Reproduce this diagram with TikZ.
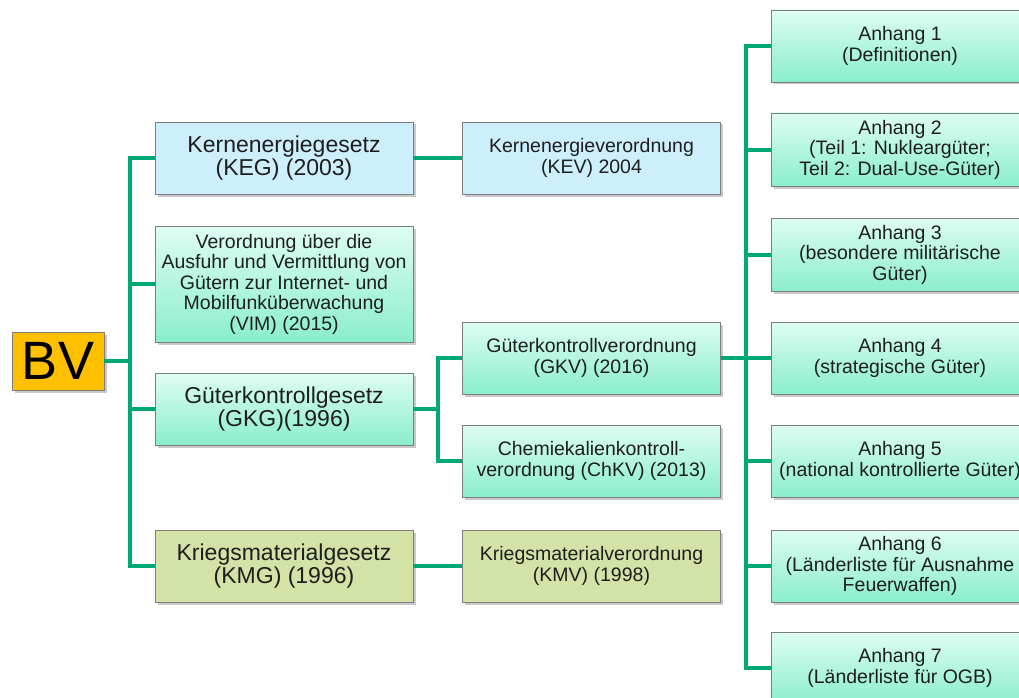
\documentclass[tikz,border=0pt]{standalone}
\usepackage{fontspec}
\setmainfont{Liberation Sans}
\usetikzlibrary{shadows}
\definecolor{conncol}{RGB}{0,168,118}
\definecolor{minttop}{RGB}{222,253,243}
\definecolor{mintbot}{RGB}{138,238,204}
\definecolor{bluefill}{RGB}{205,239,252}
\definecolor{olivefill}{RGB}{211,226,167}
\definecolor{bvfill}{RGB}{255,192,0}
\definecolor{boxline}{RGB}{125,125,125}
\definecolor{txt}{RGB}{30,30,30}
\tikzset{
  box/.style={draw=boxline, line width=0.8pt, align=center, inner sep=0pt,
    minimum width=258pt, minimum height=72pt, text=txt,
    drop shadow={shadow xshift=2.5pt, shadow yshift=-2.5pt, opacity=0.35, fill=black!60}},
  mint/.style={box, top color=minttop, bottom color=mintbot},
  bluebox/.style={box, fill=bluefill},
  olivebox/.style={box, fill=olivefill},
  big/.style={font=\fontsize{23}{23.5}\selectfont},
  small/.style={font=\fontsize{19.5}{20.5}\selectfont},
  conn/.style={draw=conncol, line width=4pt}
}
\begin{document}
\begin{tikzpicture}[x=1pt,y=1pt]
\useasboundingbox (0,0) rectangle (1019,-698);
\clip (0,0) rectangle (1019,-698);
\fill[white] (0,0) rectangle (1019,-698);

% nodes
\node[box, fill=bvfill, minimum width=92pt, minimum height=58pt,
      font=\fontsize{54}{54}\selectfont, text=black] (BV) at (58,-361) {BV};

\node[bluebox, big] (KEG) at (284,-158) {Kernenergiegesetz\\(KEG) (2003)};
\node[mint, small, minimum height=116pt] (VIM) at (284,-284)
  {Verordnung über die\\Ausfuhr und Vermittlung von\\Gütern zur Internet- und\\Mobilfunküberwachung\\(VIM) (2015)};
\node[mint, big] (GKG) at (284,-409) {Güterkontrollgesetz\\(GKG)(1996)};
\node[olivebox, big] (KMG) at (284,-566) {Kriegsmaterialgesetz\\(KMG) (1996)};

\node[bluebox, small] (KEV) at (591.5,-158) {Kernenergieverordnung\\(KEV) 2004};
\node[mint, small] (GKV) at (591.5,-358) {Güterkontrollverordnung\\(GKV) (2016)};
\node[mint, small] (ChKV) at (591.5,-461) {Chemiekalienkontroll-\\verordnung (ChKV) (2013)};
\node[olivebox, small] (KMV) at (591.5,-566) {Kriegsmaterialverordnung\\(KMV) (1998)};

\node[mint, small] (A1) at (900,-46) {Anhang 1\\(Definitionen)};
\node[mint, small, minimum height=73pt] (A2) at (900,-149.5) {Anhang 2\\(Teil 1: Nukleargüter;\\Teil 2: Dual-Use-Güter)};
\node[mint, small, minimum height=73pt] (A3) at (900,-254.5) {Anhang 3\\(besondere militärische\\Güter)};
\node[mint, small] (A4) at (900,-358) {Anhang 4\\(strategische Güter)};
\node[mint, small] (A5) at (900,-461) {Anhang 5\\(national kontrollierte Güter)};
\node[mint, small] (A6) at (900,-566) {Anhang 6\\(Länderliste für Ausnahme\\Feuerwaffen)};
\node[mint, small] (A7) at (900,-668) {Anhang 7\\(Länderliste für OGB)};

% junctions
\coordinate (j1) at (130,-361);
\coordinate (j2) at (438,-409);
\coordinate (j3) at (746,-358);

% connectors
\draw[conn] (BV.east) -- (j1);
\foreach \n in {KEG,VIM,GKG,KMG} \draw[conn] (\n.west) -| (j1);
\draw[conn] (KEG.east) -- (KEV.west);
\draw[conn] (KMG.east) -- (KMV.west);
\draw[conn] (GKG.east) -- (j2);
\foreach \n in {GKV,ChKV} \draw[conn] (\n.west) -| (j2);
\draw[conn] (GKV.east) -- (j3);
\foreach \n in {A1,A2,A3,A4,A5,A6,A7} \draw[conn] (\n.west) -| (j3);
\end{tikzpicture}
\end{document}
